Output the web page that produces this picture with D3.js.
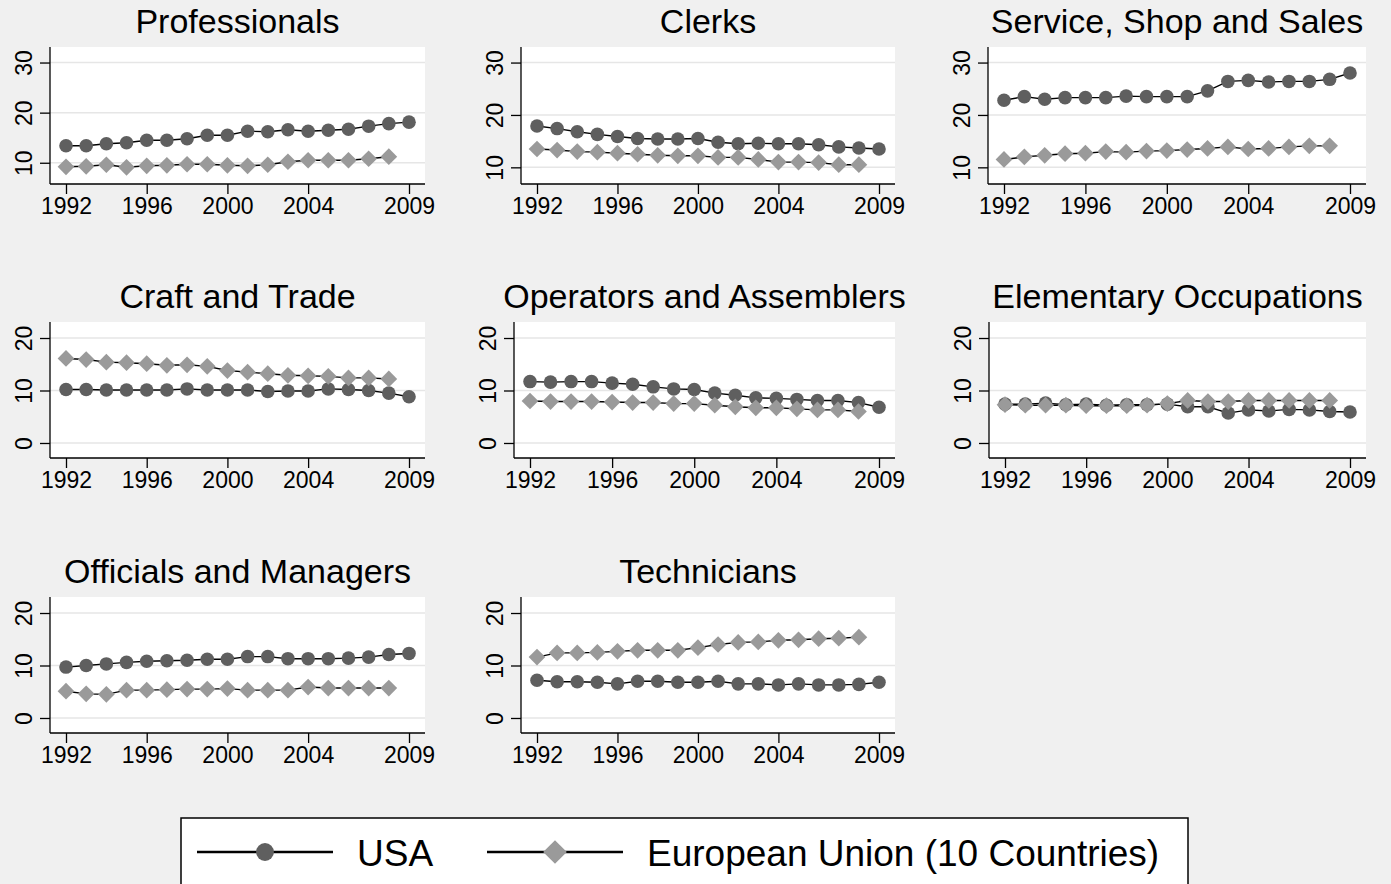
<!DOCTYPE html>
<meta charset="utf-8">
<style>
body { margin: 0; background: #f0f0f0; }
text { font-family: "Liberation Sans", Arial, sans-serif; fill: #000; }
.grid line { stroke: #e6e6e6; stroke-width: 1.5px; }
.axis path, .axis line { stroke: #000; stroke-width: 1.3px; }
.conn { fill: none; stroke: #000; stroke-width: 1.4px; }
</style>
<body>
<script src="https://d3js.org/d3.v7.min.js"></script>
<script>
// years on the x axis
var years = d3.range(1992, 2010);
var xTicks = [1992, 1996, 2000, 2004, 2009];

var titles = ["Professionals", "Clerks", "Service, Shop and Sales",
              "Craft and Trade", "Operators and Assemblers", "Elementary Occupations",
              "Officials and Managers", "Technicians"];

var seriesNames = ["USA", "European Union (10 Countries)"];

// USA 1992-2009, EU 1992-2008 (share of employment, %)
var usaProfessionals = [13.4, 13.4, 13.8, 14.0, 14.5, 14.5, 14.8, 15.5, 15.5, 16.3, 16.2, 16.6, 16.3, 16.5, 16.7, 17.3, 17.8, 18.1];
var euProfessionals  = [9.2, 9.3, 9.6, 9.1, 9.4, 9.5, 9.7, 9.7, 9.5, 9.4, 9.6, 10.2, 10.5, 10.5, 10.5, 10.8, 11.2];

var usaClerks = [17.9, 17.4, 16.8, 16.3, 15.9, 15.5, 15.4, 15.4, 15.5, 14.8, 14.5, 14.6, 14.5, 14.5, 14.3, 13.9, 13.7, 13.5];
var euClerks  = [13.5, 13.3, 13.0, 12.9, 12.7, 12.5, 12.3, 12.2, 12.2, 11.9, 11.9, 11.5, 11.0, 11.0, 10.9, 10.5, 10.5];

var usaService = [22.8, 23.5, 23.0, 23.3, 23.3, 23.3, 23.6, 23.5, 23.5, 23.5, 24.6, 26.4, 26.6, 26.3, 26.4, 26.4, 26.8, 28.0];
var euService  = [11.5, 12.0, 12.3, 12.6, 12.7, 13.0, 12.9, 13.1, 13.2, 13.4, 13.6, 13.9, 13.5, 13.6, 13.9, 14.1, 14.1];

var usaCraft = [10.2, 10.2, 10.1, 10.1, 10.1, 10.1, 10.3, 10.1, 10.1, 10.1, 9.8, 9.9, 9.9, 10.3, 10.2, 10.0, 9.5, 8.8];
var euCraft  = [16.1, 15.9, 15.4, 15.3, 15.1, 14.8, 14.9, 14.6, 13.8, 13.5, 13.2, 12.9, 12.8, 12.7, 12.4, 12.4, 12.2];

var usaOperators = [11.7, 11.6, 11.7, 11.7, 11.4, 11.2, 10.7, 10.3, 10.2, 9.5, 9.1, 8.6, 8.5, 8.3, 8.1, 8.1, 7.7, 6.8];
var euOperators  = [8.0, 7.9, 7.9, 7.9, 7.8, 7.7, 7.7, 7.5, 7.5, 7.2, 6.9, 6.7, 6.7, 6.5, 6.3, 6.3, 6.0];

var usaElementary = [7.4, 7.4, 7.6, 7.3, 7.4, 7.2, 7.3, 7.3, 7.4, 6.9, 6.9, 5.7, 6.3, 6.1, 6.4, 6.3, 6.0, 5.9];
var euElementary  = [7.3, 7.2, 7.2, 7.2, 7.1, 7.1, 7.1, 7.2, 7.5, 8.1, 7.9, 7.9, 8.1, 8.1, 8.1, 8.1, 8.1];

var usaOfficials = [9.7, 10.0, 10.3, 10.6, 10.8, 10.9, 11.0, 11.2, 11.2, 11.7, 11.7, 11.3, 11.3, 11.3, 11.4, 11.6, 12.1, 12.3];
var euOfficials  = [5.1, 4.6, 4.5, 5.3, 5.3, 5.4, 5.5, 5.5, 5.6, 5.3, 5.3, 5.3, 5.9, 5.7, 5.7, 5.7, 5.7];

var usaTechnicians = [7.2, 6.9, 6.9, 6.8, 6.5, 7.0, 7.0, 6.8, 6.8, 7.0, 6.5, 6.5, 6.3, 6.5, 6.3, 6.3, 6.4, 6.8];
var euTechnicians  = [11.6, 12.4, 12.4, 12.5, 12.7, 12.9, 12.9, 12.9, 13.4, 14.0, 14.4, 14.5, 14.8, 14.9, 15.1, 15.2, 15.4];

var usaAll = [usaProfessionals, usaClerks, usaService, usaCraft, usaOperators, usaElementary, usaOfficials, usaTechnicians];
var euAll  = [euProfessionals, euClerks, euService, euCraft, euOperators, euElementary, euOfficials, euTechnicians];

var yTicksTop = [10, 20, 30];
var yTicksLow = [0, 10, 20];

// panel placement (each panel was a separate graph, so they differ a little)
var panels = [
  {left: 50,  right: 425,  top: 47,  bottom: 184, dom: [5.76, 33.1],  ticks: yTicksTop},
  {left: 521, right: 895,  top: 47,  bottom: 184, dom: [6.82, 32.97], ticks: yTicksTop},
  {left: 988, right: 1366, top: 47,  bottom: 184, dom: [6.82, 32.97], ticks: yTicksTop},
  {left: 50,  right: 425,  top: 322, bottom: 458, dom: [-2.86, 23.05], ticks: yTicksLow},
  {left: 514, right: 895,  top: 322, bottom: 458, dom: [-2.86, 23.05], ticks: yTicksLow},
  {left: 989, right: 1366, top: 322, bottom: 458, dom: [-2.86, 23.05], ticks: yTicksLow},
  {left: 50,  right: 425,  top: 597, bottom: 733, dom: [-2.86, 23.05], ticks: yTicksLow},
  {left: 521, right: 895,  top: 597, bottom: 733, dom: [-2.86, 23.05], ticks: yTicksLow}
];

var usaColor = "#5f5f5f", euColor = "#9a9a9a";
var circle = d3.symbol().type(d3.symbolCircle).size(145);
var diamond = d3.symbol().type(d3.symbolSquare).size(140);

var svg = d3.select("body").append("svg")
    .attr("width", 1391)
    .attr("height", 884);

svg.append("rect").attr("width", 1391).attr("height", 884).attr("fill", "#f0f0f0");

panels.forEach(function(p, i) {
  var x = d3.scaleLinear().domain([1992, 2009]).range([p.left + 16, p.right - 16]);
  var y = d3.scaleLinear().domain(p.dom).range([p.bottom, p.top]);

  var g = svg.append("g");

  // plot region
  g.append("rect")
      .attr("x", p.left).attr("y", p.top)
      .attr("width", p.right - p.left).attr("height", p.bottom - p.top)
      .attr("fill", "#fff");

  // grid lines
  g.append("g").attr("class", "grid")
    .selectAll("line").data(p.ticks).enter().append("line")
      .attr("x1", p.left).attr("x2", p.right)
      .attr("y1", function(d) { return y(d); })
      .attr("y2", function(d) { return y(d); });

  // title
  g.append("text")
      .attr("x", (p.left + p.right) / 2)
      .attr("y", p.top - 14)
      .attr("text-anchor", "middle")
      .style("font-size", "34px")
      .text(titles[i]);

  // x axis
  var xa = g.append("g").attr("class", "axis")
      .attr("transform", "translate(0," + p.bottom + ")")
      .call(d3.axisBottom(x).tickValues(xTicks).tickFormat(d3.format("d")).tickSize(10).tickSizeOuter(0));
  xa.select(".domain").attr("d", "M" + p.left + ",0H" + p.right);
  xa.selectAll("text").style("font-size", "23px").attr("y", 14).attr("dy", "0.71em");

  // y axis (labels turned upright, baseline next to the tick)
  var ya = g.append("g").attr("class", "axis")
      .attr("transform", "translate(" + p.left + ",0)")
      .call(d3.axisLeft(y).tickValues(p.ticks).tickSize(10).tickSizeOuter(0));
  ya.select(".domain").attr("d", "M0," + p.top + "V" + p.bottom);
  ya.selectAll("text")
      .style("font-size", "23px")
      .attr("x", 0).attr("y", 0).attr("dy", null)
      .attr("text-anchor", "middle")
      .attr("transform", "translate(-18,0) rotate(-90)");

  // series: USA then EU on top
  var line = d3.line()
      .x(function(d, k) { return x(years[k]); })
      .y(function(d) { return y(d); });

  [[usaAll[i], circle, usaColor, 0], [euAll[i], diamond, euColor, 45]].forEach(function(s) {
    g.append("path").datum(s[0]).attr("class", "conn").attr("d", line);
    g.selectAll(null).data(s[0]).enter().append("path")
        .attr("d", s[1])
        .attr("fill", s[2])
        .attr("transform", function(d, k) {
          return "translate(" + x(years[k]) + "," + y(d) + ") rotate(" + s[3] + ")";
        });
  });
});

// legend
var lg = svg.append("g");
lg.append("rect")
    .attr("x", 181).attr("y", 818)
    .attr("width", 1007).attr("height", 80)
    .attr("fill", "#fff").attr("stroke", "#000").attr("stroke-width", 1.5);

var legendItems = [
  {name: seriesNames[0], x0: 197, sym: d3.symbol().type(d3.symbolCircle).size(250), color: usaColor, rot: 0},
  {name: seriesNames[1], x0: 487, sym: d3.symbol().type(d3.symbolSquare).size(280), color: euColor, rot: 45}
];
legendItems.forEach(function(it) {
  lg.append("line")
      .attr("x1", it.x0).attr("x2", it.x0 + 136)
      .attr("y1", 852).attr("y2", 852)
      .attr("stroke", "#000").attr("stroke-width", 2.5);
  lg.append("path")
      .attr("d", it.sym)
      .attr("fill", it.color)
      .attr("transform", "translate(" + (it.x0 + 68) + ",852) rotate(" + it.rot + ")");
  lg.append("text")
      .attr("x", it.x0 + 160)
      .attr("y", 866)
      .style("font-size", "37px")
      .text(it.name);
});
</script>
</body>
